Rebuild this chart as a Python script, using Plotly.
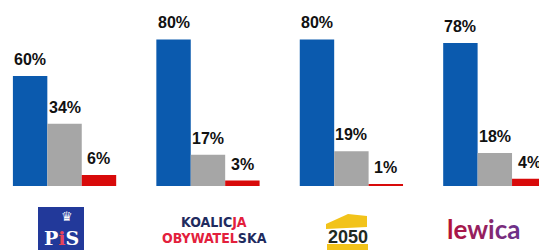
import plotly.graph_objects as go

parties = ["PiS", "KO", "2050", "Lewica"]
blue_vals = [60, 80, 80, 78]
gray_vals = [34, 17, 19, 18]
red_vals = [6, 3, 1, 4]

W, H = 539, 250
PLOT_H = 186  # baseline pixel row

fig = go.Figure()
series = [(blue_vals, "#0b5aae"), (gray_vals, "#a6a6a6"), (red_vals, "#d80a0a")]
for vals, col in series:
    fig.add_trace(go.Bar(x=parties, y=vals, marker=dict(color=col, line=dict(width=0)),
                         hoverinfo="skip", showlegend=False))

# value labels
offsets = [-0.24, 0.0, 0.24]
for k, (vals, _) in enumerate(series):
    for i, v in enumerate(vals):
        fig.add_annotation(x=i + offsets[k], y=v, xref="x", yref="y", text=f"<b>{v}%</b>",
                           showarrow=False, yanchor="bottom", yshift=6,
                           font=dict(family="Liberation Sans", size=16, color="#111111"))

def px(x):
    return x / W

def py(y):
    return 1 - y / PLOT_H

shapes = []
# PiS logo square
shapes.append(dict(type="rect", xref="paper", yref="paper", x0=px(38), x1=px(84), y0=py(252), y1=py(207),
                   fillcolor="#22399a", line=dict(width=0), layer="above"))
# 2050 yellow swooshes
def path(pts):
    s = "M " + " L ".join(f"{px(a):.5f},{py(b):.5f}" for a, b in pts) + " Z"
    return s
shapes.append(dict(type="path", xref="paper", yref="paper",
                   path=path([(326, 224), (348, 214), (367, 216), (367, 227), (326, 229)]),
                   fillcolor="#f2c31a", line=dict(width=0)))
shapes.append(dict(type="path", xref="paper", yref="paper",
                   path=path([(327, 244), (368, 244), (368, 250), (327, 252)]),
                   fillcolor="#f2c31a", line=dict(width=0)))

NARROW = "DejaVu Sans Condensed, Liberation Sans Narrow, Roboto Condensed, Liberation Sans"
logos = [
    dict(x=px(67), y=py(216), text="♛", font=dict(family="DejaVu Sans", size=13, color="#ffffff")),
    dict(x=px(61), y=py(238), text="<b>P<span style='color:#e8455a'>i</span>S</b>",
         font=dict(family="DejaVu Serif", size=19, color="#ffffff")),
    dict(x=px(214), y=py(222), text="<b>KOALIC<span style='color:#e3203c'>JA</span></b>",
         font=dict(family=NARROW, size=14, color="#1f2b5e")),
    dict(x=px(214), y=py(238), text="<b><span style='color:#e3203c'>OBYWATEL</span>SKA</b>",
         font=dict(family=NARROW, size=14, color="#1f2b5e")),
    dict(x=px(348), y=py(237), text="<b>2050</b>",
         font=dict(family="Liberation Sans", size=18, color="#1f2a22")),
    dict(x=px(483), y=py(229),
         text="<b><span style='color:#b3123a'>l</span><span style='color:#a8174a'>e</span>"
              "<span style='color:#96205e'>w</span><span style='color:#86286e'>i</span>"
              "<span style='color:#7a2c7c'>c</span><span style='color:#6e3088'>a</span></b>",
         font=dict(family="Lato", size=26, color="#8a2a6a")),
]
for a in logos:
    fig.add_annotation(xref="paper", yref="paper", showarrow=False, xanchor="center", yanchor="middle", **a)

fig.update_layout(
    width=W, height=H,
    margin=dict(l=0, r=0, t=0, b=H - PLOT_H, pad=0),
    barmode="group", bargap=0.28, bargroupgap=0,
    paper_bgcolor="#ffffff", plot_bgcolor="#ffffff",
    xaxis=dict(range=[-0.45, 3.308], showticklabels=False, showgrid=False, zeroline=False,
               showline=False, ticks=""),
    yaxis=dict(range=[0, 101.5], showticklabels=False, showgrid=False, zeroline=False,
               showline=False, ticks=""),
    shapes=shapes,
)

fig.write_html("out.html", config={"displayModeBar": False},
               post_script="document.body.style.margin='0';document.body.style.overflow='hidden';")
